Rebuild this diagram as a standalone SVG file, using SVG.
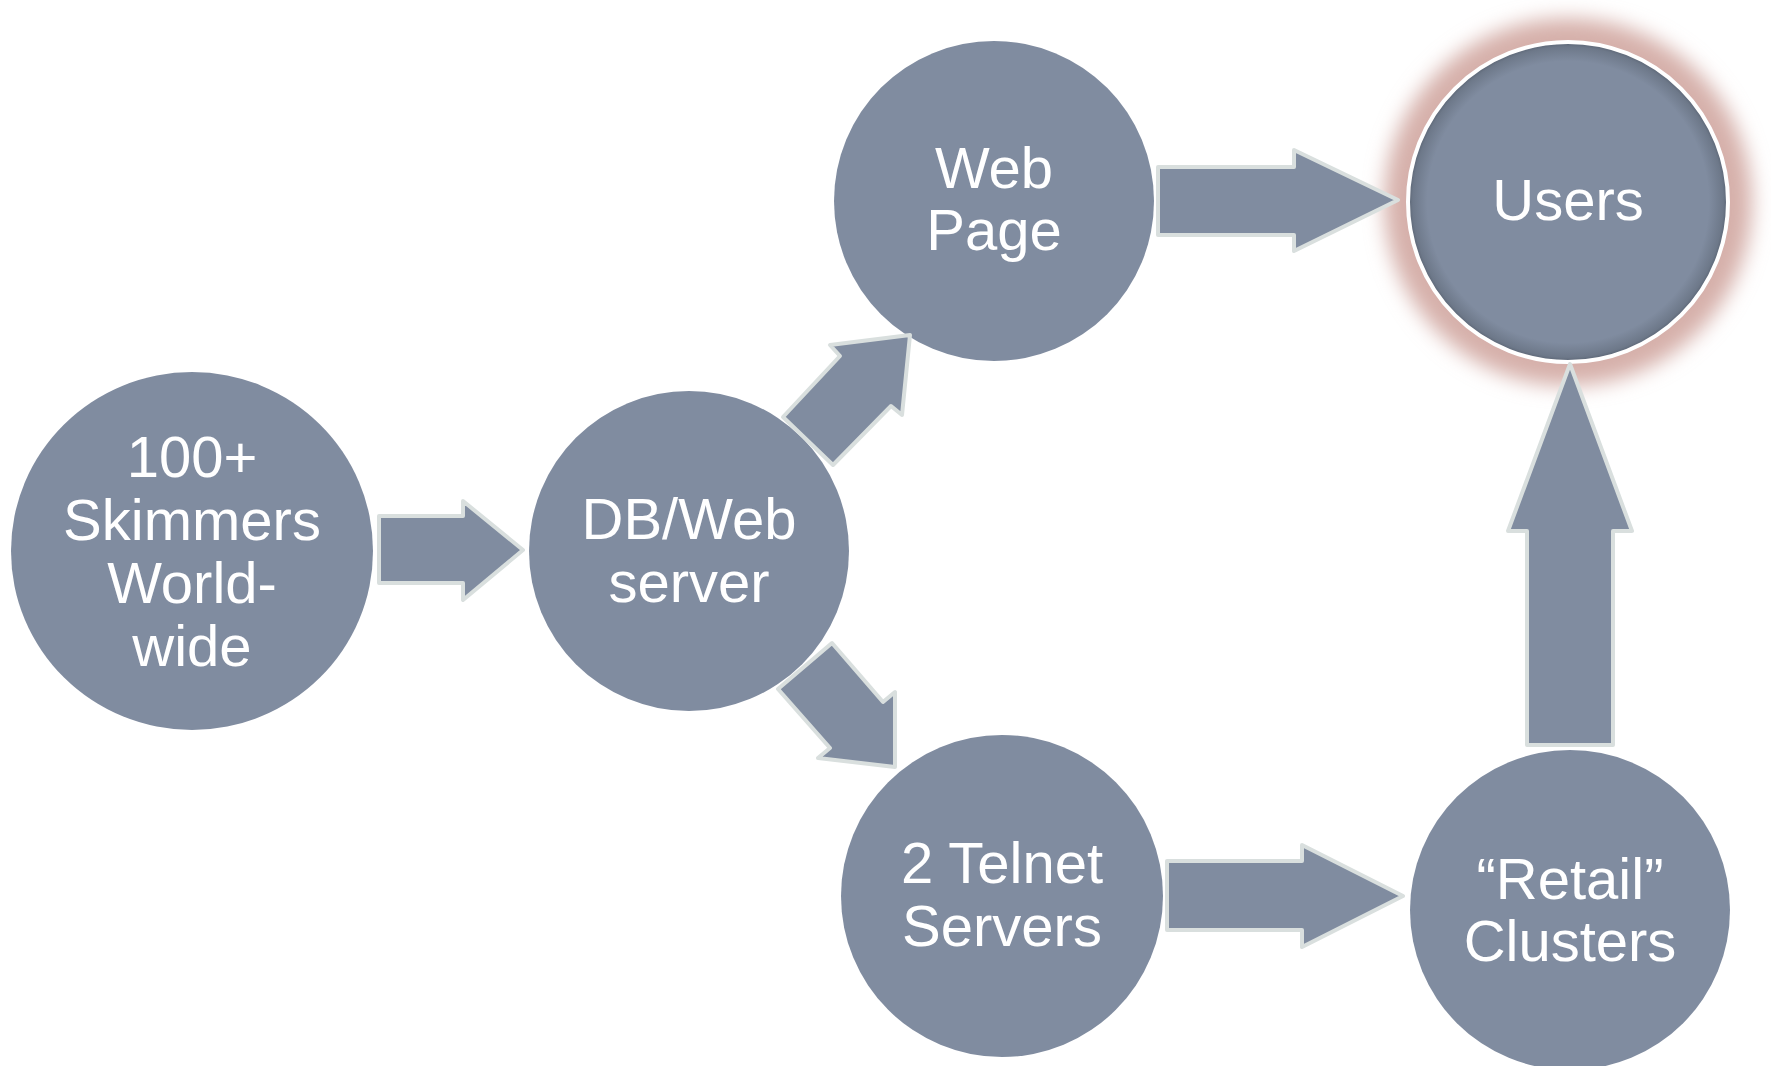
<svg xmlns="http://www.w3.org/2000/svg" width="1771" height="1066" viewBox="0 0 1771 1066">
<style>
.node{fill:#808ca0}
.lbl{font-family:"Liberation Sans",Arial,sans-serif;font-size:58px;fill:#ffffff;text-anchor:middle}
.arr{fill:#808ca0;stroke:#d9dfde;stroke-width:4;stroke-linejoin:round}
</style>
<defs>
<filter id="glow" x="-30%" y="-30%" width="160%" height="160%">
<feGaussianBlur stdDeviation="10"/>
</filter>
<radialGradient id="inner" cx="0.5" cy="0.5" r="0.5">
<stop offset="0.88" stop-color="#808ca0"/>
<stop offset="0.97" stop-color="#6d7889"/>
<stop offset="1" stop-color="#586271"/>
</radialGradient>
</defs>
<rect width="1771" height="1066" fill="#ffffff"/>
<g id="node-skimmers">
<ellipse class="node" cx="192" cy="551" rx="181" ry="179"/>
<text class="lbl" x="192" y="477">100+</text>
<text class="lbl" x="192" y="540">Skimmers</text>
<text class="lbl" x="192" y="603">World-</text>
<text class="lbl" x="192" y="666">wide</text>
</g>
<g id="node-dbweb">
<circle class="node" cx="689" cy="551" r="160"/>
<text class="lbl" x="689" y="539">DB/Web</text>
<text class="lbl" x="689" y="602">server</text>
</g>
<g id="node-webpage">
<circle class="node" cx="994" cy="201" r="160"/>
<text class="lbl" x="994" y="188">Web</text>
<text class="lbl" x="994" y="250">Page</text>
</g>
<g id="node-users">
<circle cx="1568" cy="202" r="184" fill="#d6b0aa" filter="url(#glow)"/>
<circle cx="1568" cy="202" r="160" fill="url(#inner)" stroke="#ffffff" stroke-width="4"/>
<text class="lbl" x="1568" y="220">Users</text>
</g>
<g id="node-telnet">
<circle class="node" cx="1002" cy="896" r="161"/>
<text class="lbl" x="1002" y="883">2 Telnet</text>
<text class="lbl" x="1002" y="946">Servers</text>
</g>
<g id="node-retail">
<circle class="node" cx="1570" cy="910" r="160"/>
<text class="lbl" x="1570" y="899">“Retail”</text>
<text class="lbl" x="1570" y="961">Clusters</text>
</g>
<g id="connectors">
<path class="arr" d="M379,516 L463,516 L463,501 L523,550 L463,600 L463,583 L379,583 Z"/>
<path class="arr" d="M783,417 L840,356 L830,345 L910,335 L902,415 L891,406 L833,465 Z"/>
<path class="arr" d="M832,643 L883,702 L895,692 L895,767 L818,758 L830,748 L778,689 Z"/>
<path class="arr" d="M1158,167 L1294,167 L1294,150 L1398,200 L1294,251 L1294,235 L1158,235 Z"/>
<path class="arr" d="M1167,861 L1302,861 L1302,845 L1403,896 L1302,947 L1302,930 L1167,930 Z"/>
<path class="arr" d="M1527,745 L1527,531 L1508,531 L1570,364 L1632,531 L1613,531 L1613,745 Z"/>
</g>
</svg>
